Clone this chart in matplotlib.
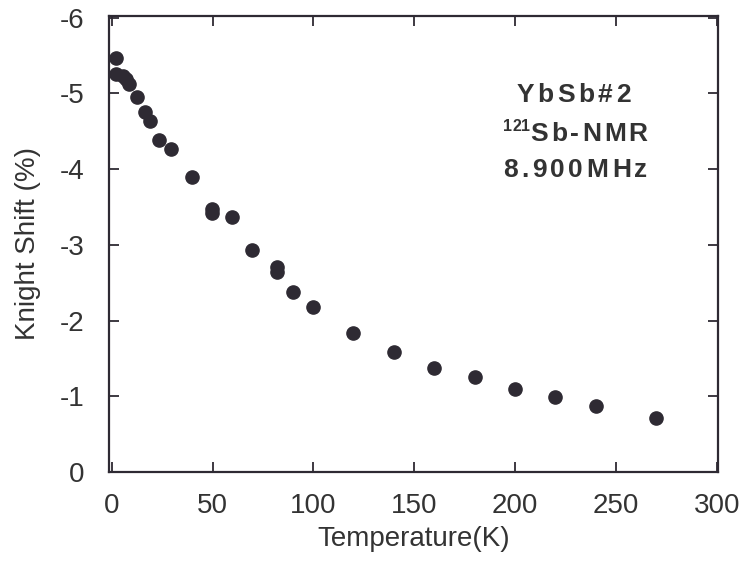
import numpy as np
import matplotlib
matplotlib.use("Agg")
import matplotlib.pyplot as plt
from matplotlib.transforms import IdentityTransform

# data
temp = [2, 2, 5.5, 7, 8.5, 12.5, 16.5, 19, 23.5, 29.5, 40, 49.5, 49.5, 59.6,
        69.5, 82, 82, 90, 100, 119.6, 140, 160, 180, 200, 220, 240, 270]
shift = [-5.47, -5.25, -5.23, -5.19, -5.12, -4.95, -4.75, -4.64, -4.38, -4.26,
         -3.9, -3.47, -3.42, -3.36, -2.93, -2.7, -2.64, -2.37, -2.18, -1.83,
         -1.59, -1.37, -1.26, -1.09, -0.99, -0.87, -0.71]
xticks = [0, 50, 100, 150, 200, 250, 300]
yticks = [0, -1, -2, -3, -4, -5, -6]

plt.rcParams['font.family'] = ['Liberation Sans', 'DejaVu Sans']
plt.rcParams['axes.unicode_minus'] = False
ink = '#2e2a33'
txt = '#333333'

W, H = 747, 570
fig = plt.figure(figsize=(W / 100, H / 100), dpi=100)
ax = fig.add_axes([109 / W, 1 - 472 / H, 609 / W, 456 / H])

ax.plot(temp, shift, 'o', color=ink, markersize=9.5, clip_on=False)

ax.set_xlim(-1.4, 300.6)
ax.set_ylim(0, -6.02)
ax.set_xticks(xticks)
ax.set_yticks(yticks)
ax.tick_params(direction='in', length=7, width=1.3, color=ink,
               top=True, right=True, labelsize=20, labelcolor=txt)
ax.tick_params(axis='y', pad=18)
ax.tick_params(axis='x', pad=15)
for s in ax.spines.values():
    s.set_linewidth(1.6)
    s.set_color(ink)

ax.set_xlabel('Temperature(K)', fontsize=20, color=txt, labelpad=5)
ax.set_ylabel('Knight Shift (%)', fontsize=20, color=txt, labelpad=13)

renderer = fig.canvas.get_renderer()


def tracked(x, y, s, size, gap, draw=True):
    # string drawn char by char with extra spacing (pixels, y from top)
    for ch in s:
        t = fig.text(x, H - y, ch, transform=IdentityTransform(), fontsize=size,
                     fontweight='bold', color=txt, va='baseline')
        x += t.get_window_extent(renderer).width + gap
        if not draw:
            t.remove()
    return x - gap


def centred(cx, y, parts):
    # parts: list of (string, size, gap, dy)
    total = 0
    for s, size, gap, dy in parts:
        total += tracked(0, 0, s, size, gap, draw=False) + gap
    x = cx - total / 2
    for s, size, gap, dy in parts:
        x = tracked(x, y - dy, s, size, gap) + gap


centred(575, 102, [('YbSb#2', 19, 3.5, 0)])
centred(577, 141, [('121', 11.5, 0, 10), ('Sb-NMR', 19, 3, 0)])
centred(577, 177, [('8.900MHz', 19, 3.5, 0)])

fig.savefig('out.png', dpi=100)
